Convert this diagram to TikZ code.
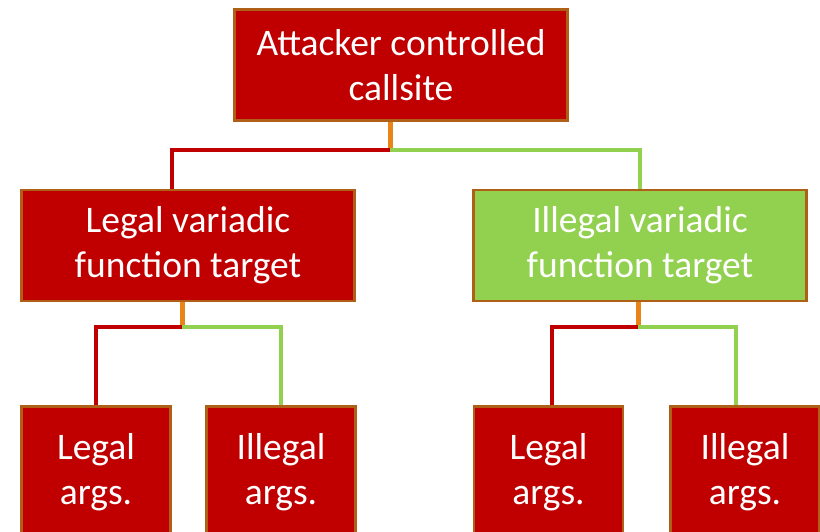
\documentclass[tikz,border=0pt]{standalone}
\usepackage{fontspec}
\setmainfont{Carlito}
\usetikzlibrary{positioning}
\definecolor{boxred}{RGB}{192,0,0}
\definecolor{boxgreen}{RGB}{146,208,80}
\definecolor{edgebrown}{RGB}{176,96,22}
\definecolor{stuborange}{RGB}{232,132,24}
\tikzstyle{bad} = [rectangle, minimum width=333pt, minimum height=111pt, inner sep=0pt, align=center, draw=edgebrown, line width=2.5pt, fill=boxred, text=white, font=\fontsize{37.5}{45}\selectfont]
\tikzstyle{good} = [bad, fill=boxgreen]
\tikzstyle{leaf} = [bad, minimum width=149pt, minimum height=131pt]
\tikzstyle{stub} = [draw=stuborange, line width=5pt]
\tikzstyle{redline} = [draw=boxred, line width=4pt]
\tikzstyle{greenline} = [draw=boxgreen, line width=4pt]

\begin{document}
\begin{tikzpicture}
\useasboundingbox (0,0) rectangle (820pt,-532pt);
\clip (0,0) rectangle (820pt,-532pt);

\node (site) [bad, xshift=401pt, yshift=-65pt] {Attacker controlled\\callsite};
\node (legalfn) [bad, xshift=188pt, yshift=-245.5pt] {Legal variadic\\function target};
\node (illegalfn) [good, xshift=640pt, yshift=-245.5pt] {Illegal variadic\\function target};
\node (lla) [leaf, xshift=96pt, yshift=-472pt] {Legal\\args.};
\node (lia) [leaf, xshift=281pt, yshift=-472pt] {Illegal\\args.};
\node (ila) [leaf, xshift=548.5pt, yshift=-472pt] {Legal\\args.};
\node (iia) [leaf, xshift=745pt, yshift=-472pt] {Illegal\\args.};

% callsite split
\coordinate (j0) at ([xshift=-11pt,yshift=-28pt]site.south);
\draw [stub] (j0) -- (j0 |- site.south);
\draw [redline] (j0) -| ([xshift=-16pt]legalfn.north);
\draw [greenline] (j0) -| (illegalfn.north);

% legal target split
\coordinate (j1) at ([xshift=-6pt,yshift=-25pt]legalfn.south);
\draw [stub] (j1) -- (j1 |- legalfn.south);
\draw [redline] (j1) -| (lla.north);
\draw [greenline] (j1) -| (lia.north);

% illegal target split
\coordinate (j2) at ([xshift=-2pt,yshift=-25pt]illegalfn.south);
\draw [stub] (j2) -- (j2 |- illegalfn.south);
\draw [redline] (j2) -| ([xshift=3.5pt]ila.north);
\draw [greenline] (j2) -| ([xshift=-9pt]iia.north);
\end{tikzpicture}
\end{document}
